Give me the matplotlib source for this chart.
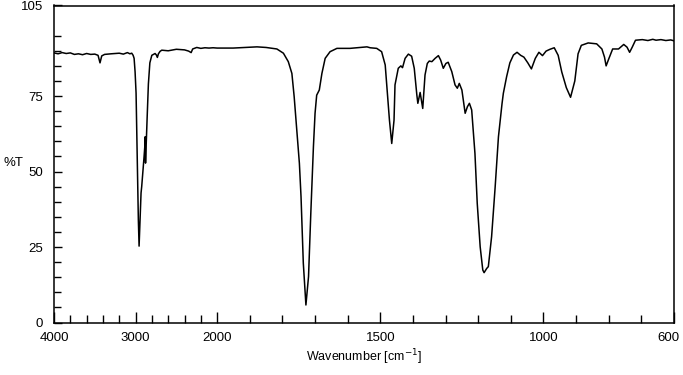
import numpy as np
import matplotlib
matplotlib.use("Agg")
import matplotlib.pyplot as plt
from matplotlib.ticker import FixedLocator, FixedFormatter, NullFormatter
from matplotlib.transforms import ScaledTranslation

plt.rcParams['font.family'] = ['Liberation Sans', 'DejaVu Sans']

# ---- data ----
wn_high = [4000, 3950, 3900, 3850, 3800, 3750, 3700, 3650, 3600, 3550, 3500, 3460,
           3436, 3415, 3380, 3300, 3200, 3150, 3100, 3070, 3047, 3030, 3018, 3006,
           2994, 2985, 2978, 2966, 2957, 2945, 2937, 2933, 2925, 2910, 2896, 2885,
           2883, 2878, 2868, 2858, 2843, 2825, 2801, 2780, 2761, 2745, 2733, 2720,
           2700, 2679, 2600, 2500, 2400, 2350, 2319, 2300, 2250, 2200, 2150, 2100,
           2050]
t_high = [89.3, 89.0, 89.4, 89.1, 89.3, 88.8, 89.0, 88.7, 89.1, 88.8, 88.9, 88.5,
          86.0, 88.3, 88.8, 89.0, 89.2, 88.9, 89.4, 89.0, 89.2, 88.5, 87.5, 83.0,
          76.0, 62.0, 52.0, 34.0, 25.3, 34.0, 39.6, 42.9, 45.0, 50.0, 54.9, 59.0,
          61.5, 52.8, 60.0, 68.0, 79.0, 86.0, 88.5, 88.8, 89.1, 88.6, 87.8, 89.0,
          89.8, 90.2, 90.0, 90.5, 90.3, 89.9, 89.4, 90.6, 91.1, 90.8, 91.0, 90.9,
          91.0]

wn_low = [2000, 1951, 1900, 1878, 1850, 1817, 1797, 1782, 1771, 1764, 1756, 1748,
          1743, 1736, 1728, 1720, 1713, 1705, 1700, 1695, 1687, 1679, 1669, 1654,
          1633, 1593, 1541, 1531, 1511, 1496, 1485, 1472, 1465, 1458, 1455, 1445,
          1437, 1432, 1424, 1414, 1404, 1396, 1388, 1385, 1378, 1370, 1363, 1356,
          1350, 1342, 1332, 1322, 1315, 1307, 1299, 1292, 1281, 1271, 1264, 1258,
          1250, 1240, 1233, 1227, 1220, 1210, 1203, 1194, 1186, 1182, 1174, 1169,
          1159, 1148, 1138, 1127, 1123, 1113, 1103, 1092, 1081, 1070, 1060, 1048,
          1037, 1025, 1014, 1003, 992, 980, 967, 955, 944, 930, 917, 904,
          894, 884, 863, 837, 821, 813, 808, 800, 788, 770, 754, 744,
          736, 728, 718, 697, 680, 665, 655, 640, 625, 610, 600]
t_low = [90.9, 90.9, 91.2, 91.3, 91.1, 90.6, 89.2, 86.4, 82.5, 74.8, 63.8, 52.7,
         41.7, 19.7, 5.8, 15.2, 36.2, 58.2, 69.3, 75.3, 77.0, 82.5, 87.5, 89.7,
         90.8, 90.8, 91.3, 91.0, 90.8, 89.7, 85.3, 67.0, 59.3, 67.0, 78.7, 84.2,
         85.0, 84.4, 87.5, 88.9, 88.2, 84.2, 75.3, 72.6, 76.2, 70.9, 82.0, 85.8,
         86.6, 86.4, 87.5, 88.4, 86.9, 84.2, 85.8, 86.2, 83.1, 78.7, 77.6, 79.2,
         77.0, 69.3, 71.5, 72.6, 70.4, 56.0, 39.5, 25.1, 17.4, 16.5, 17.9, 18.5,
         28.4, 45.0, 61.5, 72.5, 75.9, 81.4, 86.0, 88.6, 89.5, 88.5, 87.9, 86.0,
         84.0, 87.5, 89.5, 88.4, 89.9, 90.5, 91.0, 88.5, 83.0, 77.8, 74.6, 80.0,
         89.0, 91.8, 92.6, 92.3, 90.6, 87.9, 85.0, 87.3, 90.6, 90.6, 92.1, 91.2,
         89.5, 91.2, 93.5, 93.7, 93.4, 93.8, 93.5, 93.7, 93.4, 93.6, 93.3]

x_ticks = [4000, 3000, 2000, 1500, 1000, 600]
y_ticks = [0, 25, 50, 75, 105]

wn = np.array(wn_high + wn_low, dtype=float)
tr = np.array(t_high + t_low, dtype=float)

def fwd(w):
    w = np.asarray(w, dtype=float)
    return np.where(w > 2000, 2000 + (w - 2000) / 4.0, w)

def inv(t):
    t = np.asarray(t, dtype=float)
    return np.where(t > 2000, 2000 + (t - 2000) * 4.0, t)

fig = plt.figure(figsize=(6.83, 3.75), dpi=100)
ax = fig.add_axes([54/683, 1 - 322.5/375, 620/683, 317/375])
ax.set_xscale('function', functions=(fwd, inv))
ax.plot(wn, tr, color='black', lw=1.1)
ax.set_xlim(4000, 600)
ax.set_ylim(0, 105)

ax.xaxis.set_major_locator(FixedLocator(x_ticks))
ax.xaxis.set_major_formatter(FixedFormatter([str(v) for v in x_ticks]))
minor_x = [v for v in range(3800, 2000, -200) if v != 3000] + \
          [v for v in range(1900, 600, -100) if v not in (1500, 1000)]
ax.xaxis.set_minor_locator(FixedLocator(minor_x))
ax.xaxis.set_minor_formatter(NullFormatter())

ax.yaxis.set_major_locator(FixedLocator(y_ticks))
ax.yaxis.set_major_formatter(FixedFormatter([str(v) for v in y_ticks]))
ax.yaxis.set_minor_locator(FixedLocator([v for v in range(5, 105, 5) if v % 25 != 0]))
ax.yaxis.set_minor_formatter(NullFormatter())

ax.tick_params(axis='x', which='major', direction='in', length=8, width=1.0,
               labelsize=9.5, pad=7, top=False)
ax.tick_params(axis='x', which='minor', direction='in', length=5.5, width=1.0, top=False)
ax.tick_params(axis='y', which='major', direction='in', length=6, width=1.0,
               labelsize=9.5, pad=8, right=False)
ax.tick_params(axis='y', which='minor', direction='in', length=5, width=1.0, right=False)
for s in ax.spines.values():
    s.set_linewidth(1.1)

fig.canvas.draw()
last = ax.get_xticklabels()[-1]
last.set_horizontalalignment('right')
last.set_transform(last.get_transform() + ScaledTranslation(6/100, 0, fig.dpi_scale_trans))

fig.text(364/683, 1 - 357/375, 'Wavenumber [cm$^{-1}$]', ha='center', va='center',
         fontsize=9)
fig.text(4/683, 1 - 163/375, '%T', ha='left', va='center', fontsize=9.5)

fig.savefig('out.png', dpi=100)
